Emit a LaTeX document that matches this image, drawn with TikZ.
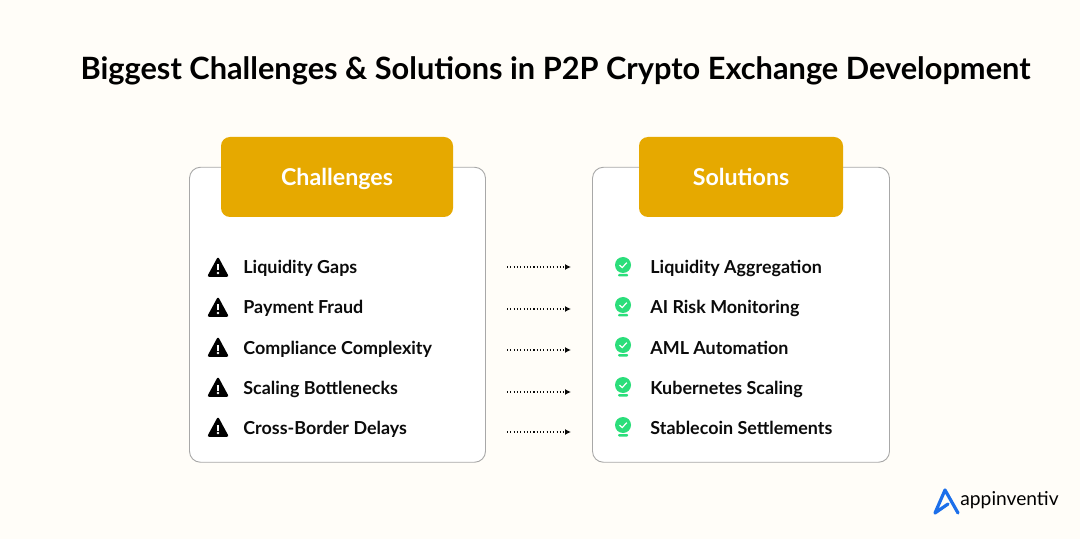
\documentclass[tikz,border=0pt]{standalone}
\usepackage{fontspec}
\setmainfont{Lato}
\usetikzlibrary{arrows.meta}
\definecolor{pagebg}{HTML}{FFFDF8}
\definecolor{cardline}{HTML}{A8A8A8}
\definecolor{headfill}{HTML}{E6A900}
\definecolor{okgreen}{HTML}{2BDE7B}
\definecolor{logoblue}{HTML}{1C6FEA}
\definecolor{inkblack}{HTML}{0B0B0B}
\tikzset{
  card/.style={draw=cardline, fill=white, line width=0.45pt, rounded corners=5.5pt, minimum height=147.5pt, inner sep=0pt},
  head/.style={fill=headfill, rounded corners=4.5pt, minimum height=40pt, inner sep=0pt, text=white, text height=9pt, text depth=0pt, font=\fontsize{11.6}{13}\selectfont\bfseries},
  item/.style={anchor=base west, inner sep=0pt, text=inkblack, font=\fontsize{8.95}{11}\selectfont\bfseries},
  dotarrow/.style={dash pattern=on 0.55pt off 1.1pt, line width=0.6pt, inkblack, -{Latex[length=3pt,width=3pt]}},
}
\begin{document}
\begin{tikzpicture}[x=0.5pt, y=-0.5pt]

 %%Background
\useasboundingbox[fill=pagebg] (0, 0) rectangle (1080, 539);

%% icons, can be moved with the two arguments
\def\warnIcon#1#2{
  \fill[black, rounded corners=1.1pt] (#1, #2-11.5) -- (#1+11, #2+8.8) -- (#1-11, #2+8.8) -- cycle;
  \fill[white] (#1-1.2, #2-3.5) rectangle (#1+1.2, #2+2.5);
  \fill[white] (#1, #2+5) circle (0.65pt);
}
\def\okIcon#1#2{
  \fill[okgreen] (#1, #2) circle (4pt);
  \draw[white, line width=0.6pt] (#1-3.5, #2) -- (#1-0.8, #2+2.6) -- (#1+3.8, #2-2.4);
  \fill[okgreen, rounded corners=0.5pt] (#1-5, #2+9) rectangle (#1+5, #2+11.5);
}

 %%Title
\node[inner sep=0pt, anchor=base, text=black, font=\fontsize{15.37}{18}\selectfont\bfseries] (title) at (555.5, 80) {Biggest Challenges \& Solutions in P2P Crypto Exchange Development};

 %% ***Cards***
\node[card, minimum width=148pt] (cardL) at (337.5, 314.75) {};
\node[card, minimum width=148.5pt] (cardR) at (741, 314.75) {};
\node[head, minimum width=116pt] (headL) at (337, 177) {Challenges};
\node[head, minimum width=102pt] (headR) at (741, 177) {Solutions};

 %% ***Challenges***
\warnIcon{218}{268}
\node[item] (ch1) at (243, 274) {Liquidity Gaps};
\warnIcon{218}{308}
\node[item] (ch2) at (243, 314) {Payment Fraud};
\warnIcon{218}{348}
\node[item] (ch3) at (243, 354) {Compliance Complexity};
\warnIcon{218}{388}
\node[item] (ch4) at (243, 394) {Scaling Bottlenecks};
\warnIcon{218}{428}
\node[item] (ch5) at (243, 434) {Cross-Border Delays};

 %% ***Solutions***
\okIcon{623}{265}
\node[item] (so1) at (650, 274) {Liquidity Aggregation};
\okIcon{623}{305}
\node[item] (so2) at (650, 314) {AI Risk Monitoring};
\okIcon{623}{345}
\node[item] (so3) at (650, 354) {AML Automation};
\okIcon{623}{385}
\node[item] (so4) at (650, 394) {Kubernetes Scaling};
\okIcon{623}{425}
\node[item] (so5) at (650, 434) {Stablecoin Settlements};

 %% ***Arrows***
\coordinate (a1) at (507, 267); \coordinate (b1) at (571, 267);
\coordinate (a2) at (507, 309); \coordinate (b2) at (571, 309);
\coordinate (a3) at (507, 350); \coordinate (b3) at (571, 350);
\coordinate (a4) at (507, 392); \coordinate (b4) at (571, 392);
\coordinate (a5) at (507, 432); \coordinate (b5) at (571, 432);
\draw[dotarrow] (a1) -- (b1);
\draw[dotarrow] (a2) -- (b2);
\draw[dotarrow] (a3) -- (b3);
\draw[dotarrow] (a4) -- (b4);
\draw[dotarrow] (a5) -- (b5);

 %% ***Logo***
\draw[logoblue, line width=1.6pt, line join=round, line cap=round] (958, 513) -- (945, 490) -- (935, 513) -- (948, 504);
\node[inner sep=0pt, anchor=base west, text=black, font=\fontsize{9.6}{13}\selectfont] (logo) at (960, 505) {appinventiv};

 \end{tikzpicture}
\end{document}
